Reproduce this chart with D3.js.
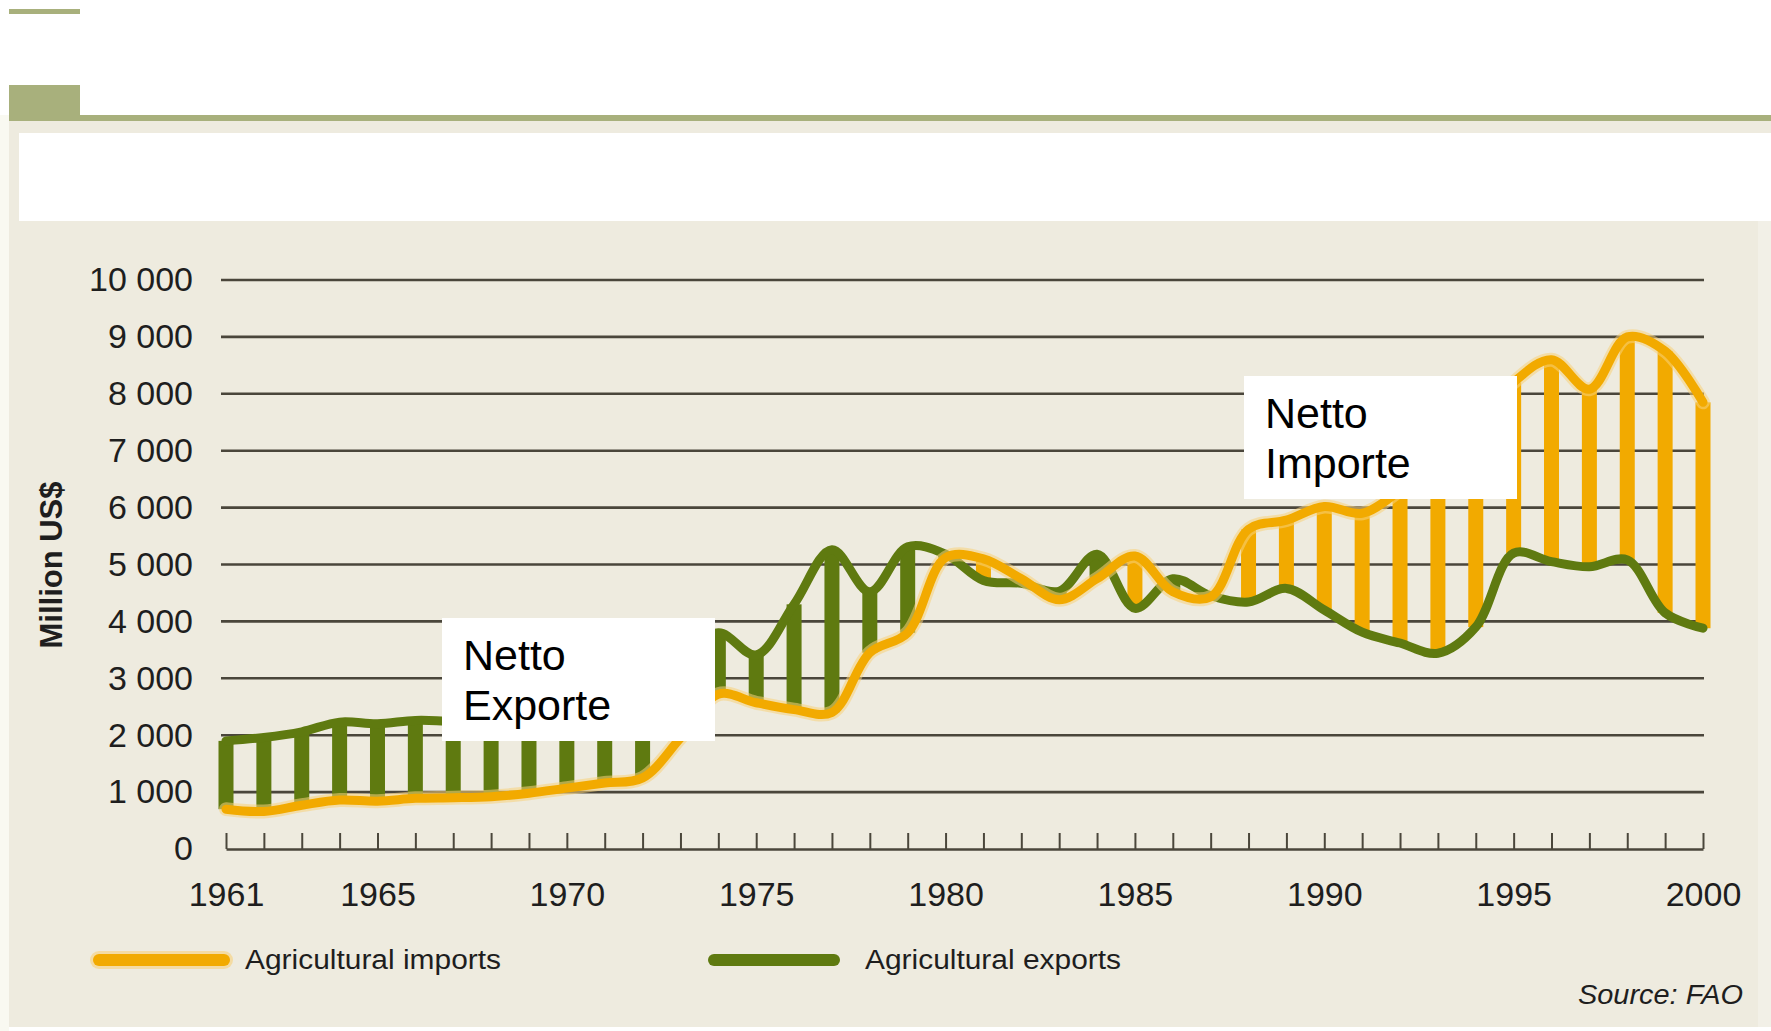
<!DOCTYPE html>
<html lang="de">
<head>
<meta charset="utf-8">
<title>Agricultural imports and exports 1961-2000</title>
<script src="https://cdnjs.cloudflare.com/ajax/libs/d3/7.8.5/d3.min.js"></script>
<style>
  body { margin: 0; background: #ffffff; }
  svg { display: block; font-family: "Liberation Sans", Arial, sans-serif; }
</style>
</head>
<body>
<svg id="chart" width="1771" height="1031"></svg>
<script>
  // values, million US$
  const years = [1961, 1962, 1963, 1964, 1965, 1966, 1967, 1968, 1969, 1970,
                 1971, 1972, 1973, 1974, 1975, 1976, 1977, 1978, 1979, 1980,
                 1981, 1982, 1983, 1984, 1985, 1986, 1987, 1988, 1989, 1990,
                 1991, 1992, 1993, 1994, 1995, 1996, 1997, 1998, 1999, 2000];
  const imports = [700, 660, 770, 860, 840, 890, 900, 920, 980, 1070,
                   1160, 1250, 1950, 2720, 2570, 2450, 2400, 3450, 3800, 5120,
                   5100, 4750, 4380, 4750, 5150, 4520, 4430, 5620, 5780, 6020,
                   5900, 6300, 6800, 7400, 8200, 8600, 8080, 9000, 8750, 7850];
  const exports = [1900, 1960, 2060, 2230, 2200, 2260, 2250, 2270, 2300, 2400,
                   2550, 2800, 3300, 3800, 3410, 4300, 5260, 4520, 5310, 5180,
                   4720, 4670, 4530, 5180, 4230, 4750, 4450, 4340, 4580, 4200,
                   3810, 3620, 3440, 3900, 5200, 5050, 4960, 5080, 4150, 3880];
  const yTicks = [0, 1000, 2000, 3000, 4000, 5000, 6000, 7000, 8000, 9000, 10000];
  const xLabelYears = [1961, 1965, 1970, 1975, 1980, 1985, 1990, 1995, 2000];

  const ORANGE = "#f2aa00";
  const GREEN = "#5f7a10";
  const GRID = "#4a463b";
  const OLIVE = "#a8b07c";

  const svg = d3.select("#chart");

  // page frame: olive header pieces, beige panel, white title area
  svg.append("rect").attr("x", 0).attr("y", 115).attr("width", 9).attr("height", 916).attr("fill", "#f9f9f1");
  svg.append("rect").attr("x", 9).attr("y", 9).attr("width", 71).attr("height", 5).attr("fill", OLIVE);
  svg.append("rect").attr("x", 9).attr("y", 121).attr("width", 1762).attr("height", 906).attr("fill", "#eeebdf");
  svg.append("rect").attr("x", 9).attr("y", 85).attr("width", 71).attr("height", 36).attr("fill", OLIVE);
  svg.append("rect").attr("x", 9).attr("y", 115).attr("width", 1762).attr("height", 6).attr("fill", OLIVE);
  svg.append("rect").attr("x", 19).attr("y", 133).attr("width", 1752).attr("height", 88).attr("fill", "#ffffff");
  svg.append("rect").attr("x", 1758).attr("y", 221).attr("width", 13).attr("height", 806).attr("fill", "#f2f0e7");

  const x = d3.scaleLinear().domain([1961, 2000]).range([226, 1703]);
  const y = d3.scaleLinear().domain([0, 10000]).range([849, 280]);
  const fmt = v => d3.format(",")(v).replace(",", " ");

  // horizontal grid
  svg.append("g")
    .selectAll("line")
    .data(yTicks.filter(v => v > 0))
    .join("line")
    .attr("x1", 221).attr("x2", 1704)
    .attr("y1", d => y(d)).attr("y2", d => y(d))
    .attr("stroke", GRID).attr("stroke-width", 2.6);

  // y labels
  const yAxis = svg.append("g")
    .attr("transform", "translate(221,0)")
    .call(d3.axisLeft(y).tickValues(yTicks).tickFormat(fmt).tickSize(0).tickPadding(28));
  yAxis.select(".domain").remove();
  yAxis.selectAll("text").attr("font-size", 34).attr("fill", "#1e1e1e")
    .attr("font-family", "'Liberation Sans', Arial, sans-serif");

  // x axis: zero line with upward ticks, then labels
  const xTicks = svg.append("g")
    .attr("transform", "translate(0,849)")
    .call(d3.axisBottom(x).tickValues(years).tickSizeInner(-16).tickSizeOuter(0).tickFormat(""));
  xTicks.select(".domain").attr("stroke", GRID).attr("stroke-width", 2.6);
  xTicks.selectAll(".tick line").attr("stroke", GRID).attr("stroke-width", 2);

  const xLabels = svg.append("g")
    .attr("transform", "translate(0,849)")
    .call(d3.axisBottom(x).tickValues(xLabelYears).tickFormat(d3.format("d")).tickSize(0).tickPadding(33));
  xLabels.select(".domain").remove();
  xLabels.selectAll("text").attr("font-size", 34).attr("fill", "#1e1e1e")
    .attr("font-family", "'Liberation Sans', Arial, sans-serif");

  svg.append("text")
    .attr("transform", "translate(62,565) rotate(-90)")
    .attr("text-anchor", "middle")
    .attr("font-size", 31).attr("font-weight", "bold").attr("fill", "#1e1e1e")
    .text("Million US$");

  // net trade bars between the two series
  const rows = years.map((yr, i) => ({ year: yr, imp: imports[i], exp: exports[i] }));
  svg.append("g")
    .selectAll("rect")
    .data(rows)
    .join("rect")
    .attr("x", d => x(d.year) - 7.5)
    .attr("width", 15)
    .attr("y", d => y(Math.max(d.imp, d.exp)))
    .attr("height", d => y(Math.min(d.imp, d.exp)) - y(Math.max(d.imp, d.exp)))
    .attr("fill", d => d.exp > d.imp ? GREEN : ORANGE);

  const line = d3.line().x(d => x(d.year)).curve(d3.curveCatmullRom.alpha(0.5));

  svg.append("path").datum(rows)
    .attr("d", line.y(d => y(d.exp)))
    .attr("fill", "none").attr("stroke", GREEN).attr("stroke-width", 9)
    .attr("stroke-linecap", "round").attr("stroke-linejoin", "round");

  svg.append("path").datum(rows)
    .attr("d", line.y(d => y(d.imp)))
    .attr("fill", "none").attr("stroke", "#f8d27a").attr("stroke-width", 14).attr("opacity", 0.55)
    .attr("stroke-linecap", "round").attr("stroke-linejoin", "round");
  svg.append("path").datum(rows)
    .attr("d", line.y(d => y(d.imp)))
    .attr("fill", "none").attr("stroke", ORANGE).attr("stroke-width", 9)
    .attr("stroke-linecap", "round").attr("stroke-linejoin", "round");

  // annotation boxes
  function note(bx, by, lines) {
    svg.append("rect").attr("x", bx).attr("y", by).attr("width", 273).attr("height", 123).attr("fill", "#ffffff");
    lines.forEach((t, i) => {
      svg.append("text")
        .attr("x", bx + 21).attr("y", by + 52 + i * 50)
        .attr("font-size", 43).attr("fill", "#000")
        .text(t);
    });
  }
  note(442, 618, ["Netto", "Exporte"]);
  note(1244, 376, ["Netto", "Importe"]);

  // legend
  const legend = [
    { label: "Agricultural imports", color: ORANGE, x1: 99, x2: 224, tx: 245 },
    { label: "Agricultural exports", color: GREEN, x1: 714, x2: 834, tx: 865 }
  ];
  legend.forEach(l => {
    if (l.color === ORANGE) {
      svg.append("line").attr("x1", l.x1).attr("x2", l.x2).attr("y1", 960).attr("y2", 960)
        .attr("stroke", "#f8d27a").attr("stroke-width", 18).attr("stroke-linecap", "round").attr("opacity", 0.6);
    }
    svg.append("line").attr("x1", l.x1).attr("x2", l.x2).attr("y1", 960).attr("y2", 960)
      .attr("stroke", l.color).attr("stroke-width", 12).attr("stroke-linecap", "round");
    svg.append("text").attr("x", l.tx).attr("y", 969)
      .attr("font-size", 27).attr("fill", "#1e1e1e")
      .attr("textLength", 256).attr("lengthAdjust", "spacingAndGlyphs")
      .text(l.label);
  });

  svg.append("text")
    .attr("x", 1578).attr("y", 1004)
    .attr("font-size", 27).attr("font-style", "italic").attr("fill", "#1e1e1e")
    .attr("textLength", 165).attr("lengthAdjust", "spacingAndGlyphs")
    .text("Source: FAO");
</script>
</body>
</html>
